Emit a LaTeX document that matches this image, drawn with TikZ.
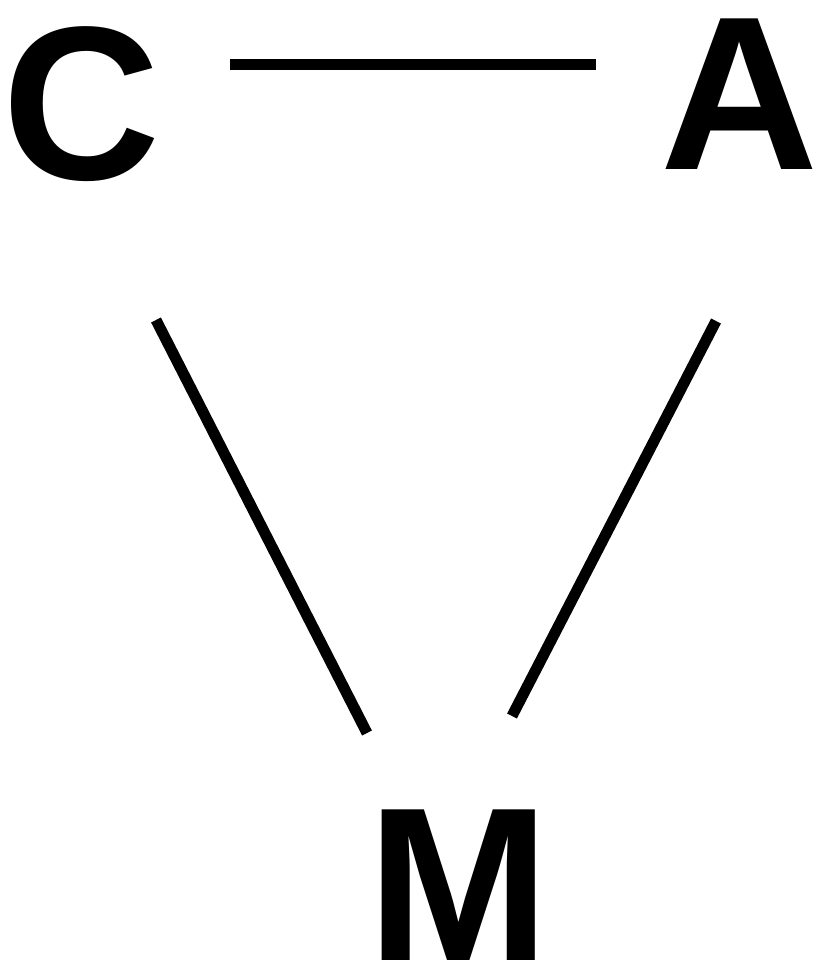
\documentclass[tikz,border=0pt]{standalone}
\usepackage{fontspec}
\setmainfont{Liberation Sans}
\usepackage{tikz}
\tikzset{
  letter/.style={font=\fontsize{219}{219}\selectfont\bfseries, inner sep=0pt, anchor=base},
  link/.style={line width=11pt, black}
}

\begin{document}
\begin{tikzpicture}[x=1pt, y=-1pt]
  \useasboundingbox (0,0) rectangle (817,965);

  % === LETTERS ===
  \node[letter] (C) at (82,180) {C};
  \node[letter] (A) at (740,170) {A};
  \node[letter] (M) at (459,960) {M};

  % === LINKS ===
  \draw[link] ([shift={(148,-115.5)}]C.base) -- ([shift={(-144,-105.5)}]A.base);
  \draw[link] ([shift={(74,140)}]C.base) -- ([shift={(-92,-227)}]M.base);
  \draw[link] ([shift={(-24,151)}]A.base) -- ([shift={(53,-244)}]M.base);

\end{tikzpicture}
\end{document}
